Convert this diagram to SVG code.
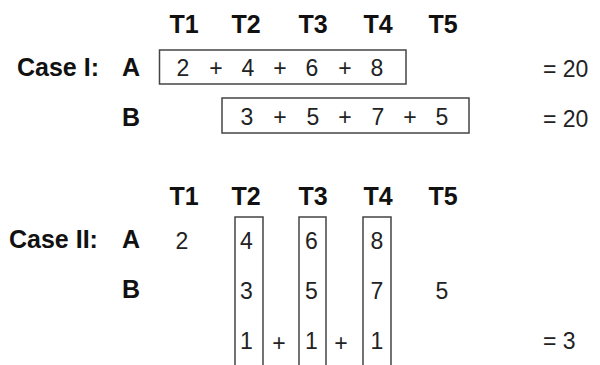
<svg xmlns="http://www.w3.org/2000/svg" width="600" height="365" viewBox="0 0 600 365">
<style>
.h{font-family:"Liberation Sans",Arial,sans-serif;font-weight:bold;font-size:25px;fill:#111;}
.n{font-family:"Liberation Sans",Arial,sans-serif;font-size:23px;fill:#222;text-anchor:middle;}
.e{font-family:"Liberation Sans",Arial,sans-serif;font-size:23px;fill:#222;}
.c{text-anchor:middle;}
.box{fill:none;stroke:#444;stroke-width:1.5;}
</style>
<rect width="600" height="365" fill="#fff"/>
<g id="case1">
  <g id="case1-headers">
    <text class="h c" x="184" y="33">T1</text>
    <text class="h c" x="246" y="33">T2</text>
    <text class="h c" x="313" y="33">T3</text>
    <text class="h c" x="378" y="33">T4</text>
    <text class="h c" x="443" y="33">T5</text>
  </g>
  <text class="h" x="17" y="76">Case I:</text>
  <text class="h" x="122" y="76">A</text>
  <text class="h" x="122" y="126">B</text>
  <g id="case1-A">
    <rect class="box" x="159.5" y="50" width="246.5" height="34"/>
    <text class="n" x="183" y="76">2</text>
    <text class="n" x="216" y="76">+</text>
    <text class="n" x="248" y="76">4</text>
    <text class="n" x="280" y="76">+</text>
    <text class="n" x="312" y="76">6</text>
    <text class="n" x="345" y="76">+</text>
    <text class="n" x="377" y="76">8</text>
  </g>
  <g id="case1-B">
    <rect class="box" x="222" y="98" width="247" height="35"/>
    <text class="n" x="247" y="125">3</text>
    <text class="n" x="280" y="125">+</text>
    <text class="n" x="313" y="125">5</text>
    <text class="n" x="345" y="125">+</text>
    <text class="n" x="378" y="125">7</text>
    <text class="n" x="410" y="125">+</text>
    <text class="n" x="442" y="125">5</text>
  </g>
  <text class="e" x="543" y="77">= 20</text>
  <text class="e" x="543" y="127">= 20</text>
</g>
<g id="case2">
  <g id="case2-headers">
    <text class="h c" x="184" y="205">T1</text>
    <text class="h c" x="246" y="205">T2</text>
    <text class="h c" x="313" y="205">T3</text>
    <text class="h c" x="378" y="205">T4</text>
    <text class="h c" x="443" y="205">T5</text>
  </g>
  <text class="h" x="9" y="248">Case II:</text>
  <text class="h" x="122" y="248">A</text>
  <text class="h" x="122" y="298">B</text>
  <text class="n" x="182" y="249">2</text>
  <g id="col-T2">
    <path class="box" d="M235,366 V217 H263 V366"/>
    <text class="n" x="246.5" y="249">4</text>
    <text class="n" x="246.5" y="299">3</text>
    <text class="n" x="246.5" y="349">1</text>
  </g>
  <text class="n" x="279" y="351">+</text>
  <g id="col-T3">
    <path class="box" d="M299,366 V217 H326 V366"/>
    <text class="n" x="311.5" y="249">6</text>
    <text class="n" x="311.5" y="299">5</text>
    <text class="n" x="311.5" y="349">1</text>
  </g>
  <text class="n" x="341" y="351">+</text>
  <g id="col-T4">
    <path class="box" d="M363,366 V217 H391 V366"/>
    <text class="n" x="377" y="249">8</text>
    <text class="n" x="377" y="299">7</text>
    <text class="n" x="377" y="349">1</text>
  </g>
  <text class="n" x="442" y="299">5</text>
  <text class="e" x="543" y="349">= 3</text>
</g>
</svg>
